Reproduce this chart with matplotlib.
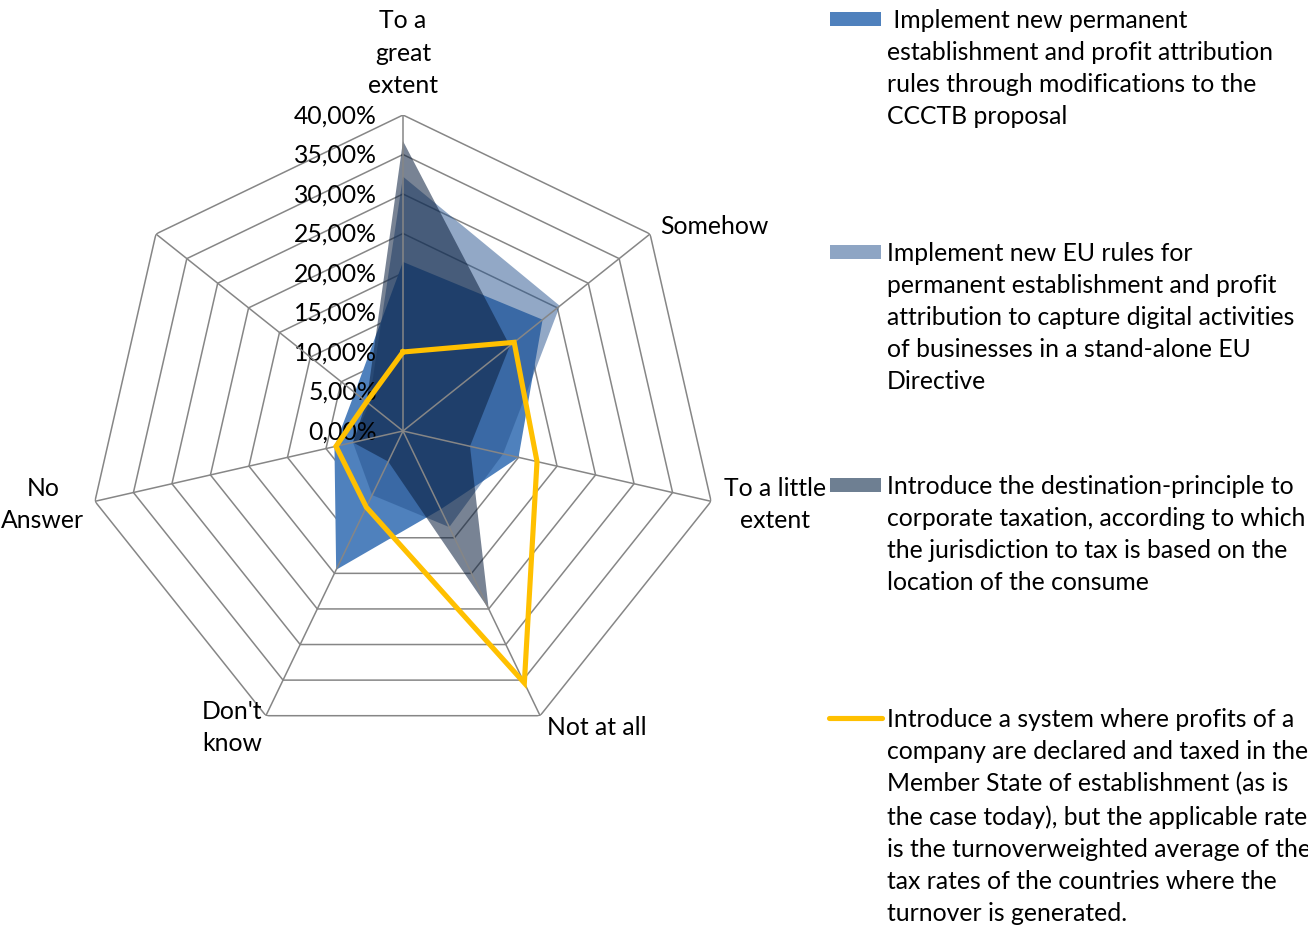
import numpy as np
import matplotlib.pyplot as plt
from matplotlib.patches import Rectangle
from matplotlib.lines import Line2D

plt.rcParams['font.family'] = ['Lato', 'DejaVu Sans']

# ---------------- data ----------------
categories = ["To a\ngreat\nextent", "Somehow", "To a little\nextent", "Not at all",
              "Don't\nknow", "No\nAnswer", ""]
ccctb = [21.4, 22.6, 15.0, 11.0, 19.5, 8.9, 7.8]
standalone = [32.2, 25.4, 13.0, 13.5, 9.0, 6.5, 5.5]
destination = [36.7, 17.3, 8.7, 25.0, 4.3, 6.5, 5.9]
turnover = [10.0, 18.0, 17.4, 35.4, 10.7, 8.7, 5.9]

levels = [0, 5, 10, 15, 20, 25, 30, 35, 40]
level_labels = ["0,00%", "5,00%", "10,00%", "15,00%", "20,00%",
                "25,00%", "30,00%", "35,00%", "40,00%"]

legend_labels = [
    " Implement new permanent\nestablishment and profit attribution\nrules through modifications to the\nCCCTB proposal",
    "Implement new EU rules for\npermanent establishment and profit\nattribution to capture digital activities\nof businesses in a stand-alone EU\nDirective",
    "Introduce the destination-principle to\ncorporate taxation, according to which\nthe jurisdiction to tax is based on the\nlocation of the consume",
    "Introduce a system where profits of a\ncompany are declared and taxed in the\nMember State of establishment (as is\nthe case today), but the applicable rate\nis the turnoverweighted average of the\ntax rates of the countries where the\nturnover is generated.",
]

# ---------------- style ----------------
W, H = 1308, 929
fs = 17.8
lsp = 1.48
grid_col = '#868686'
c1 = '#4F81BD'
c2, a2 = '#26538E', 0.5
c3, a3 = '#0A1E3C', 0.55
c4 = '#FFC000'

fig = plt.figure(figsize=(W / 100, H / 100), dpi=100)
cx, cy, R = 403, 432, 316
ax = fig.add_axes([(cx - R) / W, (H - cy - R) / H, 2 * R / W, 2 * R / H], projection='polar')
ax.set_theta_zero_location('N')
ax.set_theta_direction(-1)
ax.set_ylim(0, 40)
ax.set_xticks([])
ax.set_yticks([])
ax.grid(False)
ax.spines['polar'].set_visible(False)
ax.patch.set_alpha(0)

n = len(categories)
theta = np.arange(n) * 2 * np.pi / n
th = np.append(theta, theta[0])


def closed(v):
    return np.append(v, v[0])


# heptagon rings sit behind the areas, spokes on top
for lv in levels[1:]:
    ax.plot(th, [lv] * len(th), color=grid_col, lw=1.1, zorder=0.5)

ax.fill(th, closed(ccctb), color=c1, lw=0, zorder=1)
ax.fill(th, closed(standalone), color=c2, alpha=a2, lw=0, zorder=2)
ax.fill(th, closed(destination), color=c3, alpha=a3, lw=0, zorder=3)

for t in theta:
    ax.plot([t, t], [0, levels[-1]], color=grid_col, lw=1.1, zorder=4)

ax.plot(th, closed(turnover), color=c4, lw=3.7, zorder=5, solid_joinstyle='miter')

# value labels left of the top spoke
for lv, lab in zip(levels, level_labels):
    ax.annotate(lab, xy=(0, lv), xytext=(-26, 0), textcoords='offset pixels',
                ha='right', va='center', fontsize=fs, annotation_clip=False)

# category labels
offsets = [(0, 63, 'center'), (10, 8, 'left'), (64, -2, 'center'), (7, -11, 'left'),
           (-34, -11, 'center'), (-52, -2, 'center'), (0, 0, 'center')]
for t, lab, (dx, dy, ha) in zip(theta, categories, offsets):
    ax.annotate(lab, xy=(t, levels[-1]), xytext=(dx, dy), textcoords='offset pixels',
                ha=ha, va='center', multialignment='center', fontsize=fs,
                linespacing=lsp, annotation_clip=False)


# legend (manual, entries evenly spaced like the original)
def fx(x):
    return x / W


def fy(y):
    return 1 - y / H


key_y = [20, 253, 486, 719]
keys = ['#4F81BD', '#8EA5C4', '#6E7F92']
for col, y in zip(keys, key_y[:3]):
    fig.add_artist(Rectangle((fx(830), fy(y + 7)), fx(51), 14 / H, color=col, lw=0,
                             transform=fig.transFigure))
fig.add_artist(Line2D([fx(829), fx(882)], [fy(key_y[3])] * 2, color=c4, lw=3.7,
                      solid_capstyle='round', transform=fig.transFigure))
for lab, y in zip(legend_labels, key_y):
    fig.text(fx(887), fy(y - 11), lab, ha='left', va='top', fontsize=fs,
             linespacing=lsp)

fig.savefig('out.png', dpi=100)
